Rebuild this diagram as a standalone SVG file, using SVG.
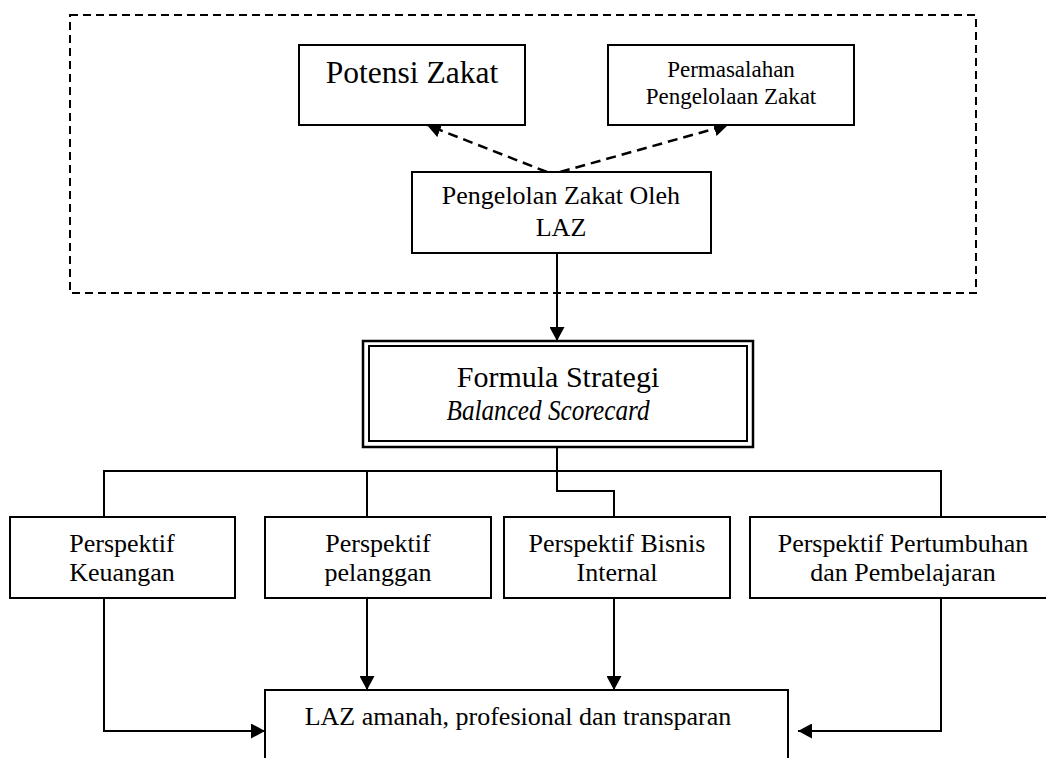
<svg xmlns="http://www.w3.org/2000/svg" width="1046" height="758" viewBox="0 0 1046 758">
<style>
.box{fill:#fff;stroke:#000;stroke-width:2}
.t{font-family:"Liberation Serif","Times New Roman",serif;fill:#000;text-anchor:middle}
.ln{fill:none;stroke:#000;stroke-width:2}
.dash{fill:none;stroke:#000;stroke-width:2.5;stroke-dasharray:10 6}
</style>
<defs>
<marker id="ah" markerUnits="userSpaceOnUse" markerWidth="15" markerHeight="15" refX="14" refY="7.5" orient="auto">
<path d="M0,0 L14,7.5 L0,15 z" fill="#000"/>
</marker>
</defs>
<rect id="frame" x="70" y="15" width="906" height="278" fill="none" stroke="#000" stroke-width="2" stroke-dasharray="8 5"/>
<g id="connectors">
<line class="dash" x1="547" y1="172" x2="427" y2="125" marker-end="url(#ah)"/>
<line class="dash" x1="560" y1="172" x2="728" y2="125" marker-end="url(#ah)"/>
<line class="ln" x1="557" y1="253" x2="557" y2="341" marker-end="url(#ah)"/>
<polyline class="ln" stroke-width="1.5" points="557,447 557,491 614,491 614,517"/>
<line class="ln" x1="103" y1="471" x2="942" y2="471"/>
<line class="ln" x1="104" y1="471" x2="104" y2="517"/>
<line class="ln" x1="367" y1="471" x2="367" y2="517"/>
<line class="ln" x1="941" y1="471" x2="941" y2="517"/>
<polyline class="ln" points="104,598 104,731 265,731" marker-end="url(#ah)"/>
<line class="ln" x1="367" y1="598" x2="367" y2="690" marker-end="url(#ah)"/>
<line class="ln" x1="614" y1="598" x2="614" y2="690" marker-end="url(#ah)"/>
<polyline class="ln" points="941,598 941,731 798,731" marker-end="url(#ah)"/>
</g>
<g id="potensi">
<rect class="box" x="299" y="45" width="226" height="80"/>
<text class="t" x="412" y="83" font-size="31.5">Potensi Zakat</text>
</g>
<g id="permasalahan">
<rect class="box" x="608" y="45" width="246" height="80"/>
<text class="t" x="731" y="77" font-size="23">Permasalahan</text>
<text class="t" x="731" y="104" font-size="23">Pengelolaan Zakat</text>
</g>
<g id="pengelolan">
<rect class="box" x="412" y="172" width="299" height="81"/>
<text class="t" x="561" y="204" font-size="26">Pengelolan Zakat Oleh</text>
<text class="t" x="561" y="236" font-size="26">LAZ</text>
</g>
<g id="formula">
<rect x="363" y="341" width="390" height="106" fill="#fff" stroke="#000" stroke-width="2.5"/>
<rect x="369" y="346" width="378" height="95" fill="none" stroke="#000" stroke-width="2"/>
<text class="t" x="558" y="387" font-size="30">Formula Strategi</text>
<text class="t" x="548" y="420" font-size="30" font-style="italic" textLength="203" lengthAdjust="spacingAndGlyphs">Balanced Scorecard</text>
</g>
<g id="keuangan">
<rect class="box" x="10" y="517" width="225" height="81"/>
<text class="t" x="122" y="552" font-size="26">Perspektif</text>
<text class="t" x="122" y="581" font-size="26">Keuangan</text>
</g>
<g id="pelanggan">
<rect class="box" x="265" y="517" width="226" height="81"/>
<text class="t" x="378" y="552" font-size="26">Perspektif</text>
<text class="t" x="378" y="581" font-size="26">pelanggan</text>
</g>
<g id="bisnis">
<rect class="box" x="504" y="517" width="226" height="81"/>
<text class="t" x="617" y="552" font-size="26">Perspektif Bisnis</text>
<text class="t" x="617" y="581" font-size="26">Internal</text>
</g>
<g id="pertumbuhan">
<rect class="box" x="750" y="517" width="306" height="81"/>
<text class="t" x="903" y="552" font-size="26">Perspektif Pertumbuhan</text>
<text class="t" x="903" y="581" font-size="26">dan Pembelajaran</text>
</g>
<g id="laz">
<rect class="box" x="265" y="690" width="523" height="90"/>
<text class="t" x="518" y="725" font-size="26">LAZ amanah, profesional dan transparan</text>
</g>
</svg>
